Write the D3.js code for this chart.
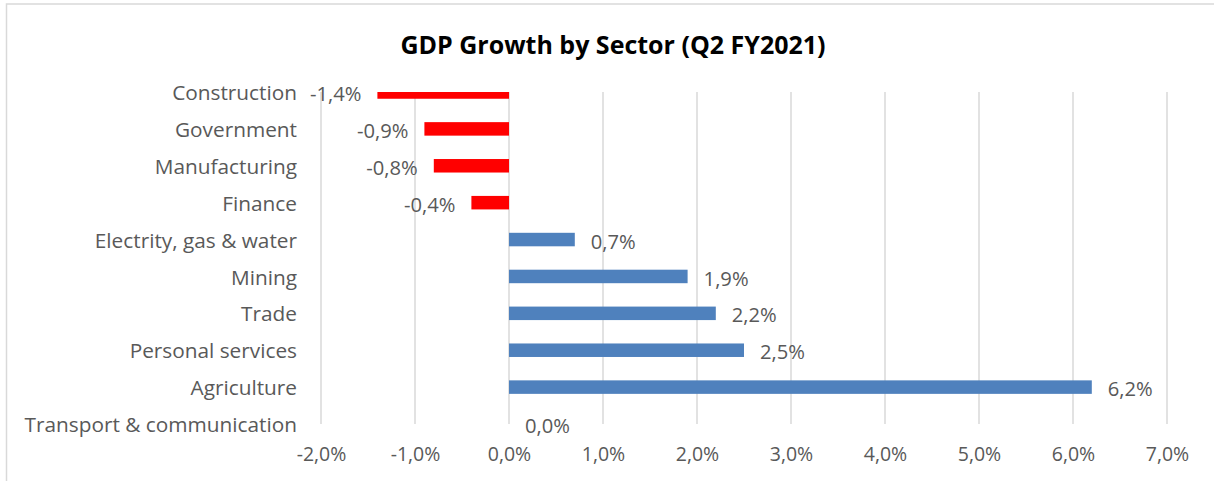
<!DOCTYPE html>
<html>
<head>
<meta charset="utf-8">
<script src="https://cdn.jsdelivr.net/npm/d3@7"></script>
<style>
  body { margin: 0; background: #fff; }
  svg { display: block; font-family: "Open Sans", sans-serif; }
</style>
</head>
<body>
<svg></svg>
<script>
// Chart data.
const sectors = [
  "Construction",
  "Government",
  "Manufacturing",
  "Finance",
  "Electrity, gas & water",
  "Mining",
  "Trade",
  "Personal services",
  "Agriculture",
  "Transport & communication",
];
const growth = [-1.4, -0.9, -0.8, -0.4, 0.7, 1.9, 2.2, 2.5, 6.2, 0.0];
const xTicks = [-2, -1, 0, 1, 2, 3, 4, 5, 6, 7];
const title = "GDP Growth by Sector (Q2 FY2021)";

// Rendering variables.
const width = 1214;
const height = 481;
const plot = { left: 321, right: 1167, top: 92, bottom: 424 };
const barHeight = 13.5;
const gridColor = "#d9d9d9";
const textColor = "#595959";

// Numbers with a decimal comma and a plain hyphen for minus.
const locale = d3.formatLocale({
  decimal: ",",
  thousands: ".",
  grouping: [3],
  currency: ["", ""],
  minus: "-",
});
const pct = (v) => locale.format(".1f")(v) + "%";

let svg = d3.select("svg").attr("width", width).attr("height", height);

// Chart area border.
svg
  .append("rect")
  .attr("x", 6.5)
  .attr("y", 4)
  .attr("width", width + 10)
  .attr("height", height + 10)
  .attr("fill", "none")
  .attr("stroke", gridColor)
  .attr("stroke-width", 1.5);

// Scales.
const x = d3
  .scaleLinear()
  .domain([xTicks[0], xTicks[xTicks.length - 1]])
  .range([plot.left, plot.right]);
const y = d3.scalePoint().domain(sectors).range([plot.top, plot.bottom]);

// Title.
svg
  .append("text")
  .attr("x", 613)
  .attr("y", 45)
  .attr("dy", "0.35em")
  .attr("text-anchor", "middle")
  .attr("font-weight", "bold")
  .attr("font-size", 25)
  .attr("fill", "#000")
  .text(title);

// Gridlines.
svg
  .append("g")
  .selectAll("line")
  .data(xTicks)
  .join("line")
  .attr("x1", (d) => x(d))
  .attr("x2", (d) => x(d))
  .attr("y1", plot.top)
  .attr("y2", plot.bottom)
  .attr("stroke", gridColor)
  .attr("stroke-width", 1.5);

// Bottom axis labels.
const xAxis = svg
  .append("g")
  .attr("transform", `translate(0,${plot.bottom + 23})`)
  .call(d3.axisBottom(x).tickValues(xTicks).tickFormat(pct).tickSize(0).tickPadding(0));
xAxis.select(".domain").remove();
xAxis
  .selectAll("text")
  .attr("font-size", 19.5)
  .attr("font-family", "Open Sans, sans-serif")
  .attr("fill", textColor);

// Category labels.
const yAxis = svg
  .append("g")
  .attr("transform", `translate(${plot.left},1)`)
  .call(d3.axisLeft(y).tickSize(0).tickPadding(24));
yAxis.select(".domain").remove();
yAxis
  .selectAll("text")
  .attr("font-size", 20.8)
  .attr("font-family", "Open Sans, sans-serif")
  .attr("fill", textColor);

// Bars, clipped to the plot area.
svg
  .append("clipPath")
  .attr("id", "plot-clip")
  .append("rect")
  .attr("x", plot.left)
  .attr("y", plot.top)
  .attr("width", plot.right - plot.left)
  .attr("height", plot.bottom - plot.top);

const rows = sectors.map((name, i) => ({ name, value: growth[i] }));

svg
  .append("g")
  .attr("clip-path", "url(#plot-clip)")
  .selectAll("rect")
  .data(rows)
  .join("rect")
  .attr("x", (d) => x(Math.min(0, d.value)))
  .attr("y", (d) => y(d.name) - barHeight / 2)
  .attr("width", (d) => Math.abs(x(d.value) - x(0)))
  .attr("height", barHeight)
  .attr("fill", (d) => (d.value < 0 ? "#ff0000" : "#4f81bd"));

// Data labels.
svg
  .append("g")
  .selectAll("text")
  .data(rows)
  .join("text")
  .attr("x", (d) => (d.value < 0 ? x(d.value) - 16 : x(d.value) + 16))
  .attr("y", (d) => y(d.name) + 2)
  .attr("dy", "0.35em")
  .attr("text-anchor", (d) => (d.value < 0 ? "end" : "start"))
  .attr("font-size", 20.2)
  .attr("fill", textColor)
  .text((d) => pct(d.value));
</script>
</body>
</html>
